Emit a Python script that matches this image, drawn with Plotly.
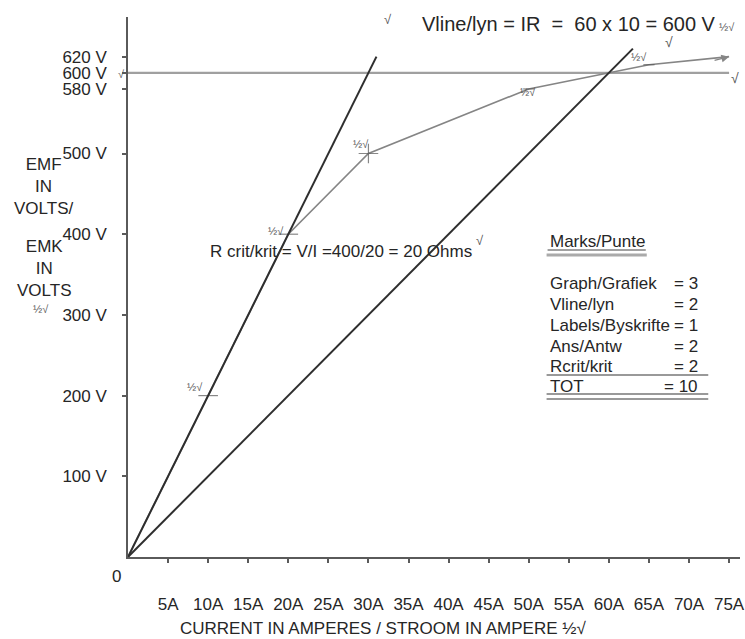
import plotly.graph_objects as go

# Generator test data: open-circuit characteristic (EMF vs field current)
occ_current = [0, 10, 20, 30, 50, 65, 75]
occ_emf = [0, 200, 400, 500, 580, 610, 620]

# Critical resistance line (R = 20 ohm) and field-resistance line (R = 10 ohm)
rcrit_current = [0, 31]
rcrit_emf = [0, 620]
rfield_current = [0, 63]
rfield_emf = [0, 630]

# Terminal-voltage level
vline_current = [0, 75]
vline_emf = [600, 600]

# Axis ticks
x_ticks = [5, 10, 15, 20, 25, 30, 35, 40, 45, 50, 55, 60, 65, 70, 75]
x_tick_text = [f"{v}A" for v in x_ticks]
y_ticks = [100, 200, 300, 400, 500, 580, 600, 620]
y_tick_text = ["100 V", "200 V", "300 V", "400 V", "500 V", "580 V", "600 V", "620 V"]

# Mark allocation table
mark_items = ["Graph/Grafiek", "Vline/lyn", "Labels/Byskrifte", "Ans/Antw", "Rcrit/krit", "TOT"]
mark_values = [3, 2, 1, 2, 2, 10]

FONT = "Liberation Sans, Arial, sans-serif"
INK = "#262626"

# plot-area pixel frame, used to place free text in paper coordinates
L, R, T, B = 128, 745, 17, 557


def px(x):
    return (x - L) / (R - L)


def py(y):
    return (B - y) / (B - T)


def note(x, y, text, size=17, color=INK, anchor="center"):
    fig.add_annotation(x=px(x), y=py(y), xref="paper", yref="paper", text=text,
                       showarrow=False, xanchor=anchor, yanchor="middle",
                       font=dict(family=FONT, size=size, color=color))


fig = go.Figure()

fig.add_trace(go.Scatter(
    x=vline_current, y=vline_emf, mode="lines",
    line=dict(color="#a0a0a0", width=2.2), hoverinfo="skip"))

fig.add_trace(go.Scatter(
    x=occ_current, y=occ_emf, mode="lines+markers",
    line=dict(color="#858585", width=1.6),
    marker=dict(symbol=["line-ew", "line-ew", "line-ew", "cross-thin",
                        "line-ew", "line-ew", "line-ew"],
                size=[0, 14, 14, 14, 8, 8, 0],
                color="#555555",
                line=dict(color="#555555", width=1.2)),
    hoverinfo="skip"))

fig.add_trace(go.Scatter(
    x=rcrit_current, y=rcrit_emf, mode="lines",
    line=dict(color="#2e2e2e", width=2), hoverinfo="skip"))

fig.add_trace(go.Scatter(
    x=rfield_current, y=rfield_emf, mode="lines",
    line=dict(color="#2e2e2e", width=2), hoverinfo="skip"))

# arrowhead at the end of the characteristic
fig.add_annotation(x=occ_current[-1], y=occ_emf[-1], ax=occ_current[-2] + 8, ay=occ_emf[-2] + 5,
                   xref="x", yref="y", axref="x", ayref="y", text="",
                   showarrow=True, arrowhead=2, arrowsize=1.1, arrowwidth=1.4,
                   arrowcolor="#858585")

# half-mark ticks beside plotted points
half_marks = [(10, 200, -13, 9), (20, 400, -12, 3), (30, 500, -7, 10),
              (50, 580, -1, -3), (65, 610, -10, 8), (75, 620, -2, 30)]
for xv, yv, dx, dy in half_marks:
    fig.add_annotation(x=xv, y=yv, xref="x", yref="y", text="½√", showarrow=False,
                       xanchor="center", yanchor="middle",
                       xshift=dx, yshift=dy, font=dict(family=FONT, size=11, color="#555555"))

# check marks
for cx, cy, sz in [(390, 20, 13), (673, 42, 14), (740, 78, 14), (483, 240, 13), (121, 74, 11)]:
    note(cx, cy, "√", size=sz, color="#555555")

# worked answers
note(422, 24, "Vline/lyn = IR \u00a0= \u00a060 x 10 = 600 V", size=20, anchor="left")
note(209, 251, "R crit/krit = V/I =400/20 = 20 Ohms", size=17, anchor="left")

# axis titles
note(43, 186, "EMF<br>IN<br>VOLTS/")
note(43, 268, "EMK<br>IN<br>VOLTS")
note(40, 309, "½√", size=11, color="#555555")
note(385, 628, "CURRENT IN AMPERES / STROOM IN AMPERE ½√")
note(116, 576, "0")

# mark allocation table
note(551, 242, "Marks/Punte", anchor="left")
row_y = [283, 304, 325, 346, 366, 386]
for name, val, ry in zip(mark_items, mark_values, row_y):
    note(551, ry, name, anchor="left")
    note(705, ry, f"= {val}", anchor="right")

for x0, x1, yy, w, c in [(551, 650, 250, 1.2, "#444444"), (550, 651, 255, 3, "#aaaaaa"),
                         (550, 713, 375, 1.5, "#777777"), (550, 713, 394, 1.5, "#777777"),
                         (550, 713, 399, 1.5, "#777777")]:
    fig.add_shape(type="line", xref="paper", yref="paper",
                  x0=px(x0), x1=px(x1), y0=py(yy), y1=py(yy),
                  line=dict(color=c, width=w))

fig.update_layout(
    width=745, height=639, autosize=False,
    margin=dict(l=L, r=745 - R, t=T, b=639 - B, pad=0),
    paper_bgcolor="white", plot_bgcolor="white",
    showlegend=False,
    font=dict(family=FONT, size=17, color=INK),
    xaxis=dict(range=[0, (R - L) / 8.08], showgrid=False, zeroline=False,
               showline=True, linecolor="#5a5a5a", linewidth=2,
               tickvals=x_ticks, ticktext=x_tick_text, ticks="outside",
               ticklen=4, tickwidth=1.5, tickcolor="#5a5a5a",
               ticklabeloverflow="allow",
               ticklabelstandoff=27, tickfont=dict(family=FONT, size=17, color=INK)),
    yaxis=dict(range=[0, (B - T) / 0.807], showgrid=False, zeroline=False,
               showline=True, linecolor="#5a5a5a", linewidth=1.5,
               tickvals=y_ticks, ticktext=y_tick_text, ticks="outside",
               ticklen=4, tickwidth=1.5, tickcolor="#5a5a5a",
               ticklabelstandoff=12, tickfont=dict(family=FONT, size=17, color=INK)),
)

fig.write_html("out.html")
